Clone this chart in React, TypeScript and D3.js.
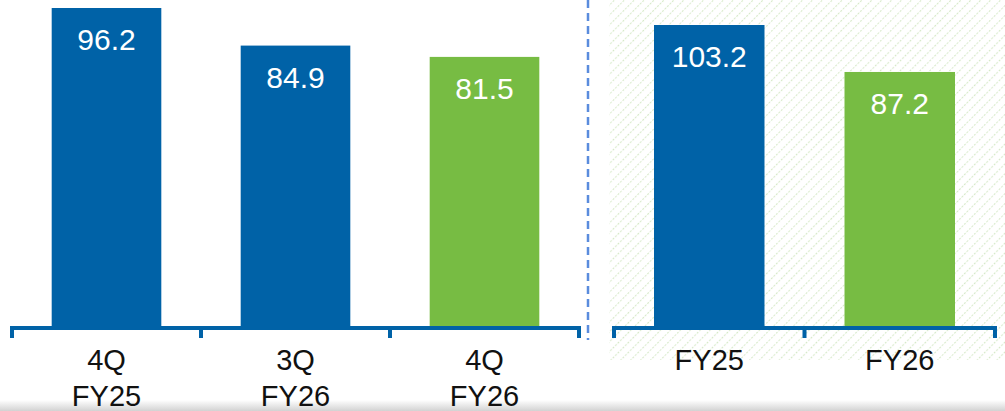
import React from 'react';
import * as d3 from 'd3';

// quarterly panel
const quarterCats = ['4Q\nFY25', '3Q\nFY26', '4Q\nFY26'];
const quarterValues = [96.2, 84.9, 81.5];
const quarterColors = ['blue', 'blue', 'green'];

// full year panel
const yearCats = ['FY25', 'FY26'];
const yearValues = [103.2, 87.2];
const yearColors = ['blue', 'green'];

const W = 1005;
const H = 411;
const BLUE = '#0062A7';
const GREEN = '#77BC43';
const baseY = 328;

const colorOf = (c: string) => (c === 'green' ? GREEN : BLUE);

function Panel({ cats, values, colors, x0, x1, yMax }: {
  cats: string[]; values: number[]; colors: string[]; x0: number; x1: number; yMax: number;
}) {
  const x = d3.scaleBand<string>().domain(cats).range([x0, x1]).paddingInner(0.42).paddingOuter(0.21);
  const y = d3.scaleLinear().domain([0, yMax]).range([baseY, 8]);
  const ticks = d3.range(cats.length + 1).map(i => x0 + i * (x1 - x0) / cats.length);

  return (
    <g>
      {cats.map((c, i) => (
        <g key={c}>
          <rect x={x(c)} y={y(values[i])} width={x.bandwidth()} height={baseY - y(values[i])} fill={colorOf(colors[i])} />
          <text x={x(c)! + x.bandwidth() / 2} y={y(values[i]) + 42} textAnchor="middle" fill="#fff"
            fontSize={30} fontFamily="'Liberation Sans', Arial, sans-serif">
            {values[i].toFixed(1)}
          </text>
          {c.split('\n').map((line, j) => (
            <text key={j} x={x(c)! + x.bandwidth() / 2} y={370 + j * 36} textAnchor="middle" fill="#111"
              fontSize={29} fontFamily="'Liberation Sans', Arial, sans-serif">
              {line}
            </text>
          ))}
        </g>
      ))}
      <line x1={x0} x2={x1} y1={baseY} y2={baseY} stroke={BLUE} strokeWidth={4} />
      {ticks.map((t, i) => (
        <line key={i} x1={t} x2={t} y1={baseY - 2} y2={baseY + 10} stroke={BLUE} strokeWidth={4} />
      ))}
    </g>
  );
}

export default function App() {
  React.useEffect(() => { document.body.style.margin = '0'; }, []);
  return (
    <svg width={W} height={H} style={{ display: 'block' }}>
      <defs>
        <pattern id="hatch" width="7" height="7" patternUnits="userSpaceOnUse" patternTransform="rotate(45)">
          <line x1="0" y1="0" x2="0" y2="7" stroke="#d6e9c8" strokeWidth="2.2" strokeDasharray="2 1.5" />
        </pattern>
        <linearGradient id="shade" x1="0" y1="0" x2="0" y2="1">
          <stop offset="0" stopColor="#ffffff" />
          <stop offset="1" stopColor="#d2d2d2" />
        </linearGradient>
      </defs>
      <rect x={0} y={0} width={W} height={H} fill="#fff" />
      <rect x={0} y={400} width={W} height={11} fill="url(#shade)" />
      <rect x={609} y={0} width={W - 609} height={360} fill="url(#hatch)" />
      <line x1={588} x2={588} y1={0} y2={340} stroke="#5A8CDD" strokeWidth={2.5} strokeDasharray="8 5" />
      <Panel cats={quarterCats} values={quarterValues} colors={quarterColors} x0={12} x1={579} yMax={96.2} />
      <Panel cats={yearCats} values={yearValues} colors={yearColors} x0={614} x1={995} yMax={103.2 * 320 / 303} />
    </svg>
  );
}
